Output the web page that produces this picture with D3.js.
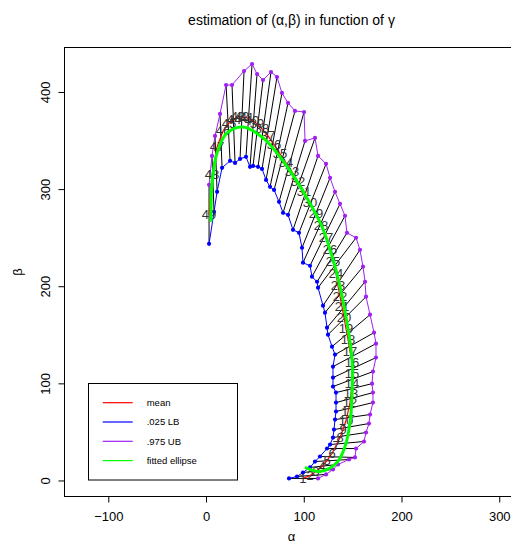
<!DOCTYPE html>
<html>
<head>
<meta charset="utf-8">
<script src="https://cdn.jsdelivr.net/npm/d3@7"></script>
<style>
  body { margin: 0; background: #fff; }
  svg { font-family: "Liberation Sans", Arial, Helvetica, sans-serif; }
</style>
</head>
<body>
<svg width="511" height="543"></svg>
<script>

// mean of (alpha, beta) for each gamma step 1..49
const meanAlpha = [99.2,106.4,112.5,118.7,123.8,128.9,133.0,137.1,140.2,143.2,145.3,147.3,148.3,149.4,149.4,149.4,147.3,145.3,143.2,141.2,
                   139.1,137.1,135.0,133.0,129.9,126.9,122.8,117.6,112.5,106.4,100.3,94.1,88.0,81.8,75.7,69.6,63.4,57.3,52.2,47.1,
                   41.9,36.8,32.7,28.6,23.5,17.4,11.3,6.1,3.1];
const meanBeta  = [2.1,5.1,9.3,14.4,20.6,27.8,36.0,44.2,52.4,61.7,71.0,80.2,89.5,99.7,110.0,121.3,132.7,145.0,156.3,167.6,
                   178.9,189.2,200.5,212.9,225.2,237.5,249.9,262.2,274.6,285.9,297.2,307.5,317.7,327.0,336.3,345.5,354.8,362.0,367.1,371.2,
                   373.3,374.3,374.3,372.2,368.1,359.9,343.5,314.7,273.5];

// .025 lower bound
const lbAlpha = [84.9,93.1,99.2,106.4,111.5,116.6,123.8,126.9,129.9,130.9,132.0,133.0,133.0,133.0,129.9,129.9,129.9,132.0,128.9,124.8,
                 123.8,121.7,119.7,114.6,113.6,108.4,106.4,99.2,98.2,95.1,89.0,83.9,78.8,74.7,69.6,65.5,61.4,57.3,53.2,48.1,
                 45.0,40.9,34.8,29.7,24.6,16.4,11.3,8.2,3.1];
const lbBeta  = [2.1,4.1,8.2,13.4,19.5,24.7,32.9,37.0,44.2,52.4,62.7,71.0,80.2,90.5,96.7,105.9,117.2,129.6,137.8,150.1,
                 157.3,172.8,180.0,198.5,204.6,209.8,221.1,224.2,239.6,255.0,258.1,273.5,275.6,286.9,299.2,302.3,309.5,320.8,322.9,323.9,
                 322.9,333.2,331.1,327.0,329.1,321.9,297.2,276.6,243.7];

// .975 upper bound
const ubAlpha = [114.6,122.8,129.9,135.0,146.3,152.4,153.5,161.6,163.7,166.7,167.8,170.8,170.8,169.8,170.8,173.9,173.9,171.9,167.8,163.7,
                 162.7,160.6,157.5,153.5,144.2,142.2,137.1,132.0,126.9,122.8,114.6,111.5,101.3,100.3,91.0,83.9,77.7,72.6,66.5,58.3,
                 52.2,47.1,38.9,26.6,20.5,14.3,9.2,6.1,3.1];
const ubBeta  = [2.1,6.2,11.3,16.5,21.6,23.7,32.9,40.1,49.4,58.6,67.9,80.2,90.5,99.7,112.1,126.5,140.9,152.2,170.7,189.2,
                 204.6,220.1,237.5,249.9,255.0,272.5,284.8,297.2,311.6,326.0,334.2,352.7,349.6,379.4,380.5,388.7,399.0,415.4,420.6,412.3,
                 418.5,428.8,421.6,407.2,407.2,377.4,354.8,334.2,304.4];

// fitted ellipse
const ellAlpha = [101.3,116.6,134.0,142.2,147.3,149.4,149.4,144.2,139.1,132.0,118.7,104.3,94.1,75.7,58.3,37.9,21.5,11.3,6.1,5.1];
const ellBeta  = [13.4,9.3,18.5,35.0,59.6,90.5,124.4,162.5,190.2,220.1,261.2,289.0,306.4,333.2,352.7,364.0,357.8,337.3,306.4,266.3];

const xTicks = [-100, 0, 100, 200, 300];
const yTicks = [0, 100, 200, 300, 400];

const legendLabels = ["mean", ".025 LB", ".975 UB", "fitted ellipse"];
const legendColors = ["#ff0000", "#0000ff", "#a020f0", "#00ff00"];

const svg = d3.select("svg");

const plot = {left: 64.5, right: 518.5, top: 47.5, bottom: 496.5};

const x = d3.scaleLinear().domain([-144.8, 319.7]).range([plot.left, plot.right]);
const y = d3.scaleLinear().domain([-16.5, 445.8]).range([plot.bottom, plot.top]);

const idx = d3.range(meanAlpha.length);

// title
svg.append("text")
    .attr("x", (plot.left + plot.right) / 2)
    .attr("y", 25)
    .attr("text-anchor", "middle")
    .attr("font-size", 14)
    .text("estimation of (α,β) in function of γ");

// box
svg.append("rect")
    .attr("x", plot.left).attr("y", plot.top)
    .attr("width", plot.right - plot.left)
    .attr("height", plot.bottom - plot.top)
    .attr("fill", "none").attr("stroke", "#000");

// axes
const xAxis = svg.append("g")
    .attr("transform", `translate(0,${plot.bottom})`)
    .call(d3.axisBottom(x).tickValues(xTicks).tickSize(6).tickFormat(d3.format("d")));
xAxis.select(".domain").remove();
xAxis.selectAll("text").attr("y", 15).attr("font-size", 13).attr("font-family", null);

const yAxis = svg.append("g")
    .attr("transform", `translate(${plot.left},0)`)
    .call(d3.axisLeft(y).tickValues(yTicks).tickSize(6).tickFormat(d3.format("d")));
yAxis.select(".domain").remove();
yAxis.selectAll("text")
    .attr("x", 0).attr("dy", 0)
    .attr("text-anchor", "middle")
    .attr("transform", "translate(-15,0) rotate(-90)")
    .attr("font-size", 13).attr("font-family", null);

svg.selectAll(".tick line").attr("stroke", "#000");

svg.append("text")
    .attr("x", (plot.left + plot.right) / 2)
    .attr("y", 541)
    .attr("text-anchor", "middle")
    .attr("font-size", 13)
    .text("α");

svg.append("text")
    .attr("transform", `translate(22,${(plot.top + plot.bottom) / 2}) rotate(-90)`)
    .attr("text-anchor", "middle")
    .attr("font-size", 13)
    .text("β");

// segments LB -> UB
svg.append("g")
    .selectAll("line")
    .data(idx)
    .join("line")
    .attr("x1", i => x(lbAlpha[i])).attr("y1", i => y(lbBeta[i]))
    .attr("x2", i => x(ubAlpha[i])).attr("y2", i => y(ubBeta[i]))
    .attr("stroke", "#000").attr("stroke-width", 1);

function drawBound(ax, bx, color) {
    const line = d3.line().x(i => x(ax[i])).y(i => y(bx[i]));
    svg.append("path")
        .attr("d", line(idx))
        .attr("fill", "none").attr("stroke", color).attr("stroke-width", 1);
    svg.append("g")
        .selectAll("circle")
        .data(idx)
        .join("circle")
        .attr("cx", i => x(ax[i])).attr("cy", i => y(bx[i]))
        .attr("r", 2.1)
        .attr("fill", color);
}

drawBound(lbAlpha, lbBeta, "#0000ff");
drawBound(ubAlpha, ubBeta, "#a020f0");

// mean line
svg.append("path")
    .attr("d", d3.line().x(i => x(meanAlpha[i])).y(i => y(meanBeta[i]))(idx))
    .attr("fill", "none").attr("stroke", "#ff0000").attr("stroke-width", 1.2);

// gamma labels at the mean
svg.append("g")
    .selectAll("text")
    .data(idx)
    .join("text")
    .attr("x", i => x(meanAlpha[i])).attr("y", i => y(meanBeta[i]))
    .attr("dy", "0.35em")
    .attr("text-anchor", "middle")
    .attr("font-size", 13)
    .attr("fill", "#333")
    .text(i => i + 1);

// fitted ellipse
svg.append("path")
    .attr("d", d3.line().curve(d3.curveCatmullRom)
        .x(i => x(ellAlpha[i])).y(i => y(ellBeta[i]))(d3.range(ellAlpha.length)))
    .attr("fill", "none").attr("stroke", "#00ff00").attr("stroke-width", 3);

// legend
const legend = svg.append("g");
legend.append("rect")
    .attr("x", 88.5).attr("y", 383.5)
    .attr("width", 149).attr("height", 96.5)
    .attr("fill", "#fff").attr("stroke", "#000");

const rows = legend.selectAll("g.row")
    .data(legendLabels)
    .join("g")
    .attr("class", "row")
    .attr("transform", (d, i) => `translate(0,${402.7 + i * 19.3})`);

rows.append("line")
    .attr("x1", 102.7).attr("x2", 132.7)
    .attr("stroke", (d, i) => legendColors[i])
    .attr("stroke-width", 1.2);

rows.append("text")
    .attr("x", 146.7).attr("dy", "0.35em")
    .attr("font-size", 9.5)
    .text(d => d);

</script>
</body>
</html>
